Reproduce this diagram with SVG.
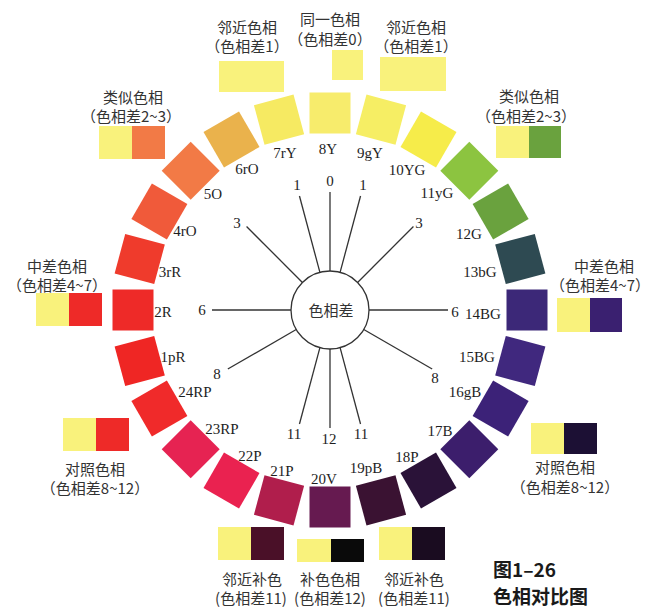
<svg xmlns="http://www.w3.org/2000/svg" xmlns:xlink="http://www.w3.org/1999/xlink" width="652" height="610" viewBox="0 0 652 610">
<style>
.hl{font-family:"Liberation Serif","Times New Roman",serif;font-size:15px;fill:#1e1e1e;text-anchor:middle}
.num{font-family:"Liberation Serif","Times New Roman",serif;font-size:15px;fill:#1e1e1e;text-anchor:middle}
.cn{font-family:"Noto Sans CJK SC","Noto Sans CJK JP",sans-serif;font-size:15px;fill:#333;text-anchor:middle}
.cap{font-family:"Noto Sans CJK SC","Noto Sans CJK JP",sans-serif;font-size:19px;font-weight:bold;fill:#1a1a1a}
.ray{stroke:#333;stroke-width:1.3}
.y{fill:#f9f27c}
</style>
<defs>
<rect id="sq" x="309.5" y="92.5" width="41" height="41"/>
</defs>
<rect width="652" height="610" fill="#fff"/>

<g id="ring">
<g id="h8"><use xlink:href="#sq" fill="#f7ec6c"/></g>
<g id="h9"><use xlink:href="#sq" fill="#f6ee64" transform="rotate(15 330 310)"/></g>
<g id="h10"><use xlink:href="#sq" fill="#f6ec4a" transform="rotate(30 330 310)"/></g>
<g id="h11"><use xlink:href="#sq" fill="#8cc440" transform="rotate(45 330 310)"/></g>
<g id="h12"><use xlink:href="#sq" fill="#6aa23e" transform="rotate(60 330 310)"/></g>
<g id="h13"><use xlink:href="#sq" fill="#2e4a52" transform="rotate(75 330 310)"/></g>
<g id="h14"><use xlink:href="#sq" fill="#3c2878" transform="rotate(90 330 310)"/></g>
<g id="h15"><use xlink:href="#sq" fill="#40287e" transform="rotate(105 330 310)"/></g>
<g id="h16"><use xlink:href="#sq" fill="#3c2278" transform="rotate(120 330 310)"/></g>
<g id="h17"><use xlink:href="#sq" fill="#3c1e6c" transform="rotate(135 330 310)"/></g>
<g id="h18"><use xlink:href="#sq" fill="#2a1238" transform="rotate(150 330 310)"/></g>
<g id="h19"><use xlink:href="#sq" fill="#3a1232" transform="rotate(165 330 310)"/></g>
<g id="h20"><use xlink:href="#sq" fill="#661a50" transform="rotate(180 330 310)"/></g>
<g id="h21"><use xlink:href="#sq" fill="#b01e4c" transform="rotate(195 330 310)"/></g>
<g id="h22"><use xlink:href="#sq" fill="#ea2250" transform="rotate(210 330 310)"/></g>
<g id="h23"><use xlink:href="#sq" fill="#e62352" transform="rotate(225 330 310)"/></g>
<g id="h24"><use xlink:href="#sq" fill="#f02a2a" transform="rotate(240 330 310)"/></g>
<g id="h1"><use xlink:href="#sq" fill="#ef2624" transform="rotate(255 330 310)"/></g>
<g id="h2"><use xlink:href="#sq" fill="#ee2a28" transform="rotate(270 330 310)"/></g>
<g id="h3"><use xlink:href="#sq" fill="#ef3b2c" transform="rotate(285 330 310)"/></g>
<g id="h4"><use xlink:href="#sq" fill="#f05a3a" transform="rotate(300 330 310)"/></g>
<g id="h5"><use xlink:href="#sq" fill="#f27a46" transform="rotate(315 330 310)"/></g>
<g id="h6"><use xlink:href="#sq" fill="#eab24c" transform="rotate(330 330 310)"/></g>
<g id="h7"><use xlink:href="#sq" fill="#f6ea62" transform="rotate(345 330 310)"/></g>
</g>

<g id="hue-labels">
<text class="hl" x="328" y="154">8Y</text>
<text class="hl" x="285" y="158">7rY</text>
<text class="hl" x="370" y="158">9gY</text>
<text class="hl" x="247" y="174">6rO</text>
<text class="hl" x="407" y="175">10YG</text>
<text class="hl" x="213" y="199">5O</text>
<text class="hl" x="437" y="198">11yG</text>
<text class="hl" x="185" y="236">4rO</text>
<text class="hl" x="469" y="239">12G</text>
<text class="hl" x="170" y="277">3rR</text>
<text class="hl" x="480" y="277">13bG</text>
<text class="hl" x="163" y="317">2R</text>
<text class="hl" x="483" y="319">14BG</text>
<text class="hl" x="173" y="362">1pR</text>
<text class="hl" x="477" y="362">15BG</text>
<text class="hl" x="195" y="397">24RP</text>
<text class="hl" x="465" y="397">16gB</text>
<text class="hl" x="222" y="434">23RP</text>
<text class="hl" x="440" y="436">17B</text>
<text class="hl" x="250" y="461">22P</text>
<text class="hl" x="407" y="462">18P</text>
<text class="hl" x="282" y="476">21P</text>
<text class="hl" x="366" y="473">19pB</text>
<text class="hl" x="324" y="484">20V</text>
</g>

<g id="connectors">
<line class="ray" x1="330" y1="271" x2="330" y2="192"/>
<line class="ray" x1="330" y1="271" x2="330" y2="192" transform="rotate(15 330 310)"/>
<line class="ray" x1="330" y1="271" x2="330" y2="192" transform="rotate(-15 330 310)"/>
<line class="ray" x1="330" y1="271" x2="330" y2="192" transform="rotate(45 330 310)"/>
<line class="ray" x1="330" y1="271" x2="330" y2="192" transform="rotate(-45 330 310)"/>
<line class="ray" x1="330" y1="271" x2="330" y2="192" transform="rotate(90 330 310)"/>
<line class="ray" x1="330" y1="271" x2="330" y2="192" transform="rotate(-90 330 310)"/>
<line class="ray" x1="330" y1="271" x2="330" y2="192" transform="rotate(120 330 310)"/>
<line class="ray" x1="330" y1="271" x2="330" y2="192" transform="rotate(-120 330 310)"/>
<line class="ray" x1="330" y1="271" x2="330" y2="192" transform="rotate(165 330 310)"/>
<line class="ray" x1="330" y1="271" x2="330" y2="192" transform="rotate(-165 330 310)"/>
<line class="ray" x1="330" y1="271" x2="330" y2="192" transform="rotate(180 330 310)"/>
</g>

<g id="diff-numbers">
<text class="num" x="330" y="186">0</text>
<text class="num" x="297" y="190">1</text>
<text class="num" x="363" y="190">1</text>
<text class="num" x="237" y="228">3</text>
<text class="num" x="419" y="228">3</text>
<text class="num" x="202" y="315">6</text>
<text class="num" x="455" y="317">6</text>
<text class="num" x="217" y="379">8</text>
<text class="num" x="435" y="383">8</text>
<text class="num" x="294" y="439">11</text>
<text class="num" x="329" y="444">12</text>
<text class="num" x="361" y="439">11</text>
</g>

<g id="center">
<circle cx="330" cy="310" r="39" fill="#fff" stroke="#333" stroke-width="1.3"/>
<text class="cn" x="331" y="316">色相差</text>
</g>

<g id="same">
<text class="cn" x="330" y="25">同一色相</text>
<text class="cn" x="330" y="45">（色相差0）</text>
<rect class="y" x="332" y="50" width="31" height="30"/>
</g>
<g id="adj-left">
<text class="cn" x="247" y="33">邻近色相</text>
<text class="cn" x="247" y="52">（色相差1）</text>
<rect class="y" x="219" y="61" width="65" height="31"/>
</g>
<g id="adj-right">
<text class="cn" x="416" y="33">邻近色相</text>
<text class="cn" x="416" y="52">（色相差1）</text>
<rect class="y" x="380" y="57" width="66" height="34"/>
</g>
<g id="sim-left">
<text class="cn" x="133" y="103">类似色相</text>
<text class="cn" x="131" y="122">（色相差2~3）</text>
<rect class="y" x="99" y="126" width="33" height="33"/>
<rect x="132" y="126" width="33" height="33" fill="#f27a46"/>
</g>
<g id="sim-right">
<text class="cn" x="529" y="102">类似色相</text>
<text class="cn" x="526" y="122">（色相差2~3）</text>
<rect class="y" x="496" y="126" width="33" height="32"/>
<rect x="529" y="126" width="32" height="32" fill="#6aa23e"/>
</g>
<g id="mid-left">
<text class="cn" x="57" y="272">中差色相</text>
<text class="cn" x="57" y="291">（色相差4~7）</text>
<rect class="y" x="36" y="293" width="33" height="33"/>
<rect x="69" y="293" width="33" height="33" fill="#ee2a28"/>
</g>
<g id="mid-right">
<text class="cn" x="604" y="272">中差色相</text>
<text class="cn" x="600" y="291">（色相差4~7）</text>
<rect class="y" x="557" y="298" width="33" height="34"/>
<rect x="590" y="298" width="32" height="34" fill="#3a2070"/>
</g>
<g id="con-left">
<rect class="y" x="63" y="418" width="33" height="33"/>
<rect x="96" y="418" width="33" height="33" fill="#ee2a28"/>
<text class="cn" x="95" y="475">对照色相</text>
<text class="cn" x="95" y="494">（色相差8~12）</text>
</g>
<g id="con-right">
<rect class="y" x="531" y="423" width="33" height="31"/>
<rect x="564" y="423" width="33" height="31" fill="#1c1034"/>
<text class="cn" x="565" y="473">对照色相</text>
<text class="cn" x="565" y="493">（色相差8~12）</text>
</g>
<g id="cadj-left">
<rect class="y" x="218" y="527" width="33" height="33"/>
<rect x="251" y="527" width="33" height="33" fill="#4a1028"/>
<text class="cn" x="252" y="585">邻近补色</text>
<text class="cn" x="251" y="604">(色相差11)</text>
</g>
<g id="comp">
<rect class="y" x="297" y="539" width="34" height="23"/>
<rect x="331" y="539" width="33" height="23" fill="#0a0a0a"/>
<text class="cn" x="330" y="585">补色色相</text>
<text class="cn" x="330" y="604">(色相差12)</text>
</g>
<g id="cadj-right">
<rect class="y" x="379" y="527" width="33" height="33"/>
<rect x="412" y="527" width="33" height="33" fill="#1a0c20"/>
<text class="cn" x="414" y="585">邻近补色</text>
<text class="cn" x="414" y="604">(色相差11)</text>
</g>

<g id="caption">
<text class="cap" x="493" y="577">图1–26</text>
<text class="cap" x="493" y="604">色相对比图</text>
</g>
</svg>
